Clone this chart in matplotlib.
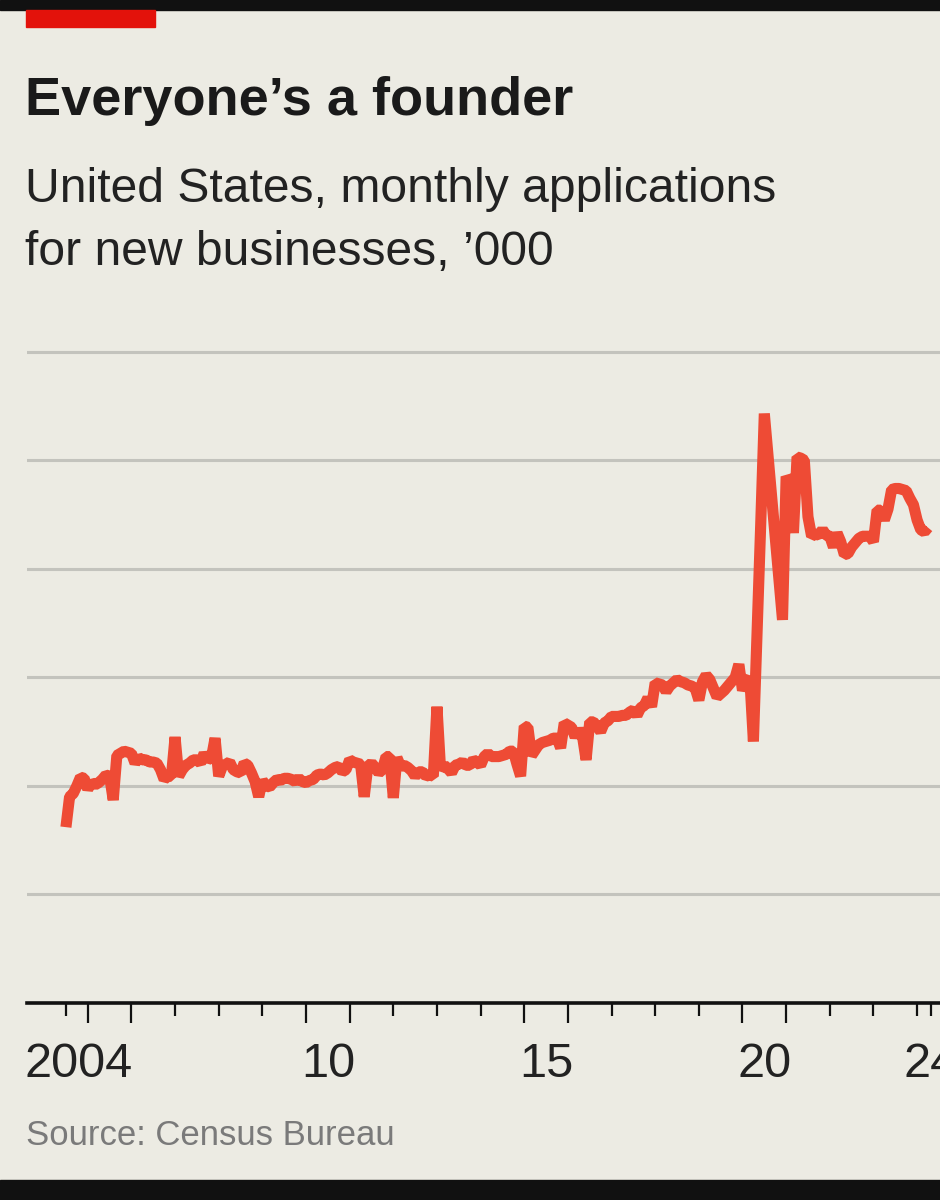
import matplotlib
matplotlib.use('Agg')
import matplotlib.pyplot as plt
import matplotlib.transforms as mtransforms
from matplotlib.patches import Rectangle
from matplotlib.ticker import FixedLocator
import numpy as np
import pandas as pd

# monthly applications for new businesses, '000
apps_2004 = [162, 190, 193, 200, 208, 207]  # Jul-Dec
apps_2005 = [197, 203, 201, 203, 206, 210, 209, 187, 228, 230, 232, 231]
apps_2006 = [230, 221, 226, 224, 224, 222, 222, 221, 215, 206, 209, 209]
apps_2007 = [245, 209, 215, 219, 221, 224, 224, 221, 230, 224, 226, 244]
apps_2008 = [209, 218, 220, 222, 215, 213, 212, 221, 219, 212, 204, 190]
apps_2009 = [205, 200, 199, 203, 206, 205, 207, 207, 206, 204, 207, 204]
apps_2010 = [203, 205, 206, 210, 211, 210, 212, 215, 217, 218, 213, 215]
apps_2011 = [224, 222, 221, 220, 190, 218, 221, 217, 212, 215, 227, 227]
apps_2012 = [189, 226, 218, 219, 217, 214, 209, 213, 213, 209, 210, 209]
apps_2013 = [273, 215, 219, 216, 212, 219, 220, 222, 219, 219, 224, 222]
apps_2014 = [219, 227, 230, 227, 227, 227, 228, 229, 232, 232, 220, 209]
apps_2015 = [255, 254, 228, 233, 238, 240, 241, 242, 244, 244, 235, 258]
apps_2016 = [256, 254, 245, 252, 246, 224, 259, 259, 255, 250, 258, 260]
apps_2017 = [264, 264, 264, 265, 265, 268, 270, 265, 272, 274, 281, 273]
apps_2018 = [295, 294, 293, 287, 292, 295, 298, 296, 295, 293, 292, 290]
apps_2019 = [279, 296, 302, 298, 290, 282, 285, 288, 292, 296, 300, 312]
apps_2020 = [288, 296, 300, 241, 340, 440, 543, 505, 467, 430, 392, 353]
apps_2021 = [485, 480, 433, 503, 502, 500, 448, 430, 432, 431, 436, 431]
apps_2022 = [430, 420, 433, 425, 413, 414, 420, 424, 428, 430, 430, 430]
apps_2023 = [425, 454, 454, 445, 455, 473, 474, 474, 473, 472, 465, 459]
apps_2024 = [445, 436, 434, 438]  # Jan-Apr

grid_values = [100, 200, 300, 400, 500, 600]
long_tick_years = [2005, 2006, 2010, 2011, 2015, 2016, 2020, 2021]
short_tick_years = [2004.5, 2007, 2008, 2009, 2012, 2013, 2014, 2017, 2018,
                    2019, 2022, 2023, 2024, 2024.33]
year_labels = ['2004', '10', '15', '20', '24']
label_years = [2003.55, 2010.5, 2015.5, 2020.5, 2023.68]
label_align = ['left', 'center', 'center', 'center', 'left']

values = (apps_2004 + apps_2005 + apps_2006 + apps_2007 + apps_2008 + apps_2009
          + apps_2010 + apps_2011 + apps_2012 + apps_2013 + apps_2014 + apps_2015
          + apps_2016 + apps_2017 + apps_2018 + apps_2019 + apps_2020 + apps_2021
          + apps_2022 + apps_2023 + apps_2024)
months = pd.date_range('2004-07-01', periods=len(values), freq='MS')
x = np.asarray(months.year + (months.month - 1) / 12.0)

BG = '#ECEBE3'
RED_LINE = '#EE4B35'
W, H = 940, 1200

plt.rcParams['font.family'] = ['Liberation Sans', 'DejaVu Sans']

fig = plt.figure(figsize=(W / 100, H / 100), dpi=100, facecolor=BG)

def fy(px):
    return 1 - px / H

# frame bits from the screenshot
fig.patches.append(Rectangle((0, fy(10)), 1, 10 / H, transform=fig.transFigure,
                             color='#111111', zorder=0))
fig.patches.append(Rectangle((0, 0), 1, 20 / H, transform=fig.transFigure,
                             color='#111111', zorder=0))
fig.patches.append(Rectangle((26 / W, fy(27)), 129 / W, 17 / H,
                             transform=fig.transFigure, color='#E3120B', zorder=1))

fig.text(25 / W, fy(115), 'Everyone\u2019s a founder', fontsize=39, fontweight='bold',
         color='#1a1a1a', va='baseline', ha='left')
fig.text(25 / W, fy(202), 'United States, monthly applications', fontsize=34.6,
         color='#222222', va='baseline', ha='left')
fig.text(25 / W, fy(265), 'for new businesses, \u2019000', fontsize=34.6,
         color='#222222', va='baseline', ha='left')
fig.text(26 / W, fy(1145), 'Source: Census Bureau', fontsize=25,
         color='#7a7a7a', va='baseline', ha='left')

ax = fig.add_axes([27 / W, fy(1003), 913 / W, (1003 - 330) / H])
ax.set_facecolor(BG)
ax.set_xlim(2003.608, 2024.525)
ax.set_ylim(0, 620)

for g in grid_values:
    ax.axhline(g, color='#C3C3BD', lw=2.2, zorder=1)
ax.axhline(0, color='#111111', lw=2.6, zorder=3, clip_on=False)

ax.plot(x, values, color=RED_LINE, lw=8, solid_joinstyle='bevel',
        solid_capstyle='butt', zorder=4)

for s in ax.spines.values():
    s.set_visible(False)
ax.set_yticks([])
ax.xaxis.set_major_locator(FixedLocator(long_tick_years))
ax.xaxis.set_minor_locator(FixedLocator(short_tick_years))
ax.tick_params(axis='x', which='major', length=14.5, width=1.6, color='#111111',
               labelbottom=False, direction='out')
ax.tick_params(axis='x', which='minor', length=9, width=1.6, color='#111111',
               labelbottom=False, direction='out')

trans = mtransforms.blended_transform_factory(ax.transData, fig.transFigure)
for lab, xp, ha in zip(year_labels, label_years, label_align):
    ax.text(xp, fy(1077), lab, transform=trans, fontsize=35, color='#222222',
            ha=ha, va='baseline', clip_on=False)

fig.savefig('out.png', dpi=100, facecolor=BG)
